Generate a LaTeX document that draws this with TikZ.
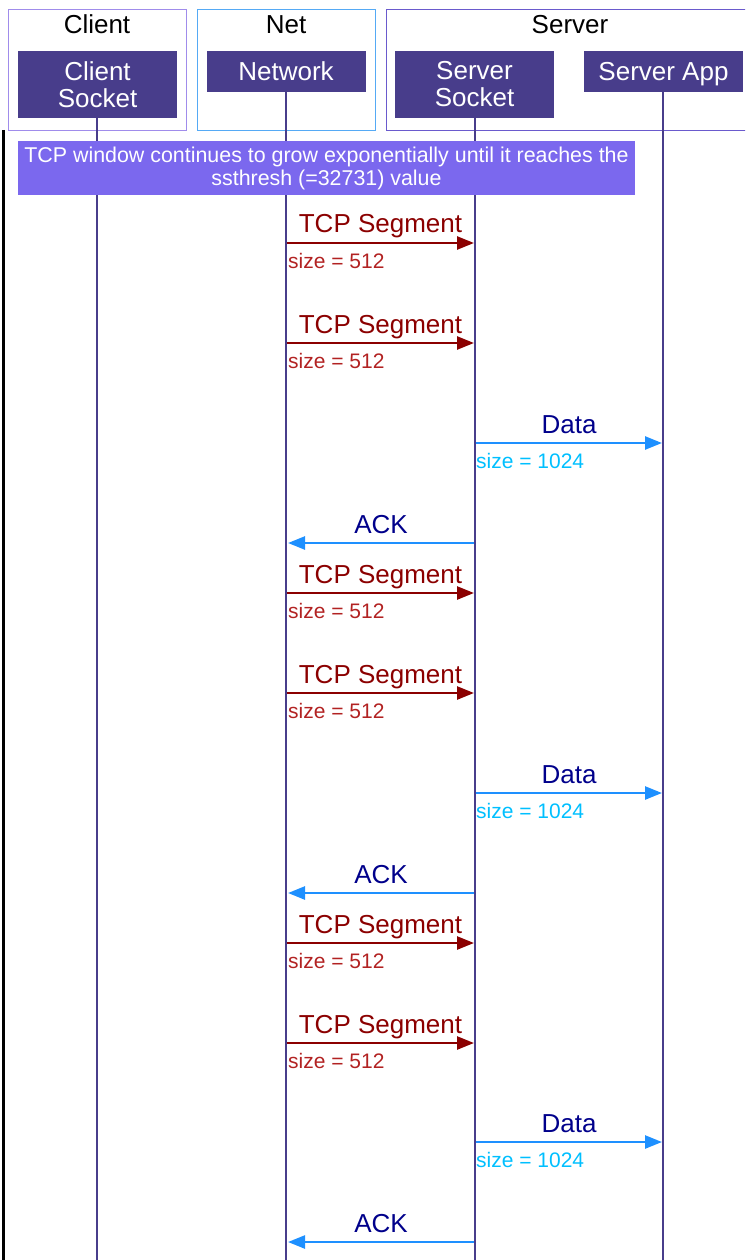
\documentclass[tikz,border=0pt]{standalone}
\usepackage{fontspec}
\setmainfont{Liberation Sans}
\usetikzlibrary{arrows.meta}
\definecolor{hdrfill}{HTML}{483D8B}
\definecolor{notefill}{HTML}{7B68EE}
\definecolor{grpclient}{HTML}{A08CEB}
\definecolor{grpnet}{HTML}{55AAF5}
\definecolor{grpserver}{HTML}{6A5ACD}
\definecolor{segred}{HTML}{8B0000}
\definecolor{sizered}{HTML}{B22222}
\definecolor{msgblue}{HTML}{1E90FF}
\definecolor{msgnavy}{HTML}{00008B}
\definecolor{sizeblue}{HTML}{00BFFF}
\tikzset{
  grpbox/.style={draw, line width=1.2pt, anchor=north west, inner sep=0pt},
  grptitle/.style={anchor=base, font=\fontsize{26}{27}\selectfont, text=black},
  hdrbox/.style={fill=hdrfill, text=white, align=center, inner sep=0pt,
    font=\fontsize{26}{27}\selectfont, minimum width=159pt},
  life/.style={draw=hdrfill, line width=2pt},
  notebox/.style={fill=notefill, text=white, align=center, inner sep=0pt,
    font=\fontsize{21.4}{23}\selectfont, minimum width=617pt, minimum height=54pt},
  segarrow/.style={draw=segred, line width=2.5pt, -{Triangle[length=17pt,width=13pt]}},
  bluearrow/.style={draw=msgblue, line width=2.5pt, -{Triangle[length=17pt,width=13pt]}},
  msglabel/.style={anchor=base, font=\fontsize{26}{27}\selectfont},
  sizelabel/.style={anchor=base west, inner sep=0pt, font=\fontsize{21}{22}\selectfont},
}
\begin{document}
\begin{tikzpicture}[x=1pt,y=-1pt]
\useasboundingbox (0,0) rectangle (745,1260);
\clip (0,0) rectangle (745,1260);

% group frames with titles
\node[grpbox, draw=grpclient, minimum width=178pt, minimum height=121pt] (gclient) at (8,9) {};
\node[grptitle] (tclient) at (97,34) {Client};
\node[grpbox, draw=grpnet, minimum width=178pt, minimum height=121pt] (gnet) at (197,9) {};
\node[grptitle] (tnet) at (286,34) {Net};
\node[grpbox, draw=grpserver, minimum width=370pt, minimum height=121pt] (gserver) at (386,9) {};
\node[grptitle] (tserver) at (570,34) {Server};

% participants
\node[hdrbox, minimum height=67pt] (cs) at (97.5,84.5) {Client\\Socket};
\node[hdrbox, minimum height=41pt, text depth=0pt] (net) at (286,71.5) {Network};
\node[hdrbox, minimum height=67pt] (ss) at (474.5,84.5) {Server\\Socket};
\node[hdrbox, minimum height=41pt, text depth=0pt] (app) at (663.5,71.5) {Server App};

% lifelines
\foreach \p/\x in {cs/97,net/286,ss/475,app/663}{
  \coordinate (\p-end) at (\x,1262);
  \draw[life] (\p.south -| \p-end) -- (\p-end);
}

% left frame edge
\coordinate (edgeTop) at (3,130);
\coordinate (edgeBot) at (3,1262);
\draw[line width=3pt, black] (edgeTop) -- (edgeBot);

% note across the participants
\node[notebox] (note) at (326.5,168) {TCP window continues to grow exponentially until it reaches the\\ssthresh (=32731) value};

% TCP segments: network -> server socket
\foreach \y [count=\i] in {243,343,593,693,943,1043}{
  \coordinate (tn\i) at (287,\y);
  \coordinate (ts\i) at (474,\y);
  \draw[segarrow] (tn\i) -- (ts\i);
  \node[msglabel, text=segred] (tl\i) at (380.5,\y-10) {TCP Segment};
  \node[sizelabel, text=sizered] (tz\i) at (288,\y+25) {size = 512};
}

% data: server socket -> server app
\foreach \y [count=\i] in {443,793,1142}{
  \coordinate (ds\i) at (476,\y);
  \coordinate (da\i) at (662,\y);
  \draw[bluearrow] (ds\i) -- (da\i);
  \node[msglabel, text=msgnavy] (dl\i) at (569,\y-10) {Data};
  \node[sizelabel, text=sizeblue] (dz\i) at (476,\y+25) {size = 1024};
}

% acknowledgements: server socket -> network
\foreach \y [count=\i] in {543,893,1242}{
  \coordinate (as\i) at (474,\y);
  \coordinate (an\i) at (288,\y);
  \draw[bluearrow] (as\i) -- (an\i);
  \node[msglabel, text=msgnavy] (al\i) at (381,\y-10) {ACK};
}
\end{tikzpicture}
\end{document}
